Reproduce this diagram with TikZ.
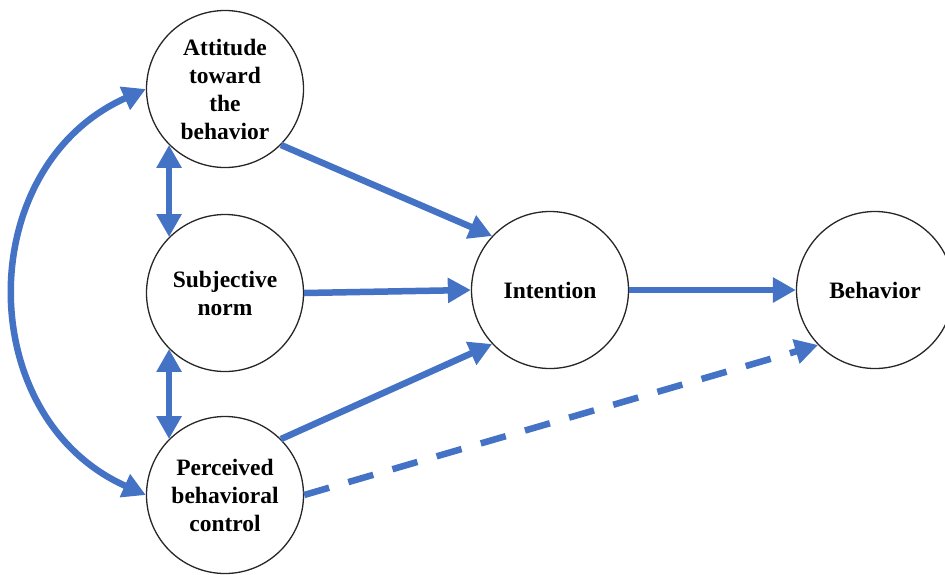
\documentclass[tikz,border=0pt]{standalone}
\usepackage{fontspec}
\setmainfont{Liberation Serif}
\usetikzlibrary{arrows.meta}
\definecolor{arrowblue}{RGB}{68,114,196}
\begin{document}
\begin{tikzpicture}[x=1pt,y=1pt,
  construct/.style={circle,draw=black!85,line width=1.3pt,minimum size=157pt,inner sep=0pt,
    align=center,font=\fontsize{23.5}{28}\selectfont\bfseries},
  link/.style={draw=arrowblue,line width=6.5pt,-{Triangle[length=23pt,width=24pt]}},
  dlink/.style={draw=arrowblue,line width=6.5pt,{Triangle[length=23pt,width=24pt]}-{Triangle[length=23pt,width=24pt]}},
  dashlink/.style={link,dash pattern=on 26pt off 20pt}]
\useasboundingbox (0,0) rectangle (945,-574);
\node[construct] (att) at (225,-89) {Attitude\\toward\\the\\behavior};
\node[construct] (sn)  at (225,-293) {Subjective\\norm};
\node[construct] (pbc) at (225,-495) {Perceived\\behavioral\\control};
\node[construct] (int) at (550,-290) {Intention};
\node[construct] (beh) at (875,-290) {Behavior};
\draw[link] (att.-45) -- (int.137);
\draw[link] (sn.east) -- (int.west);
\draw[link] (pbc.45) -- (int.223);
\draw[link] (int.east) -- (beh.west);
\draw[dashlink] (pbc.east) -- (beh.224);
\draw[dlink] (att.225) -- (sn.135);
\draw[dlink] (sn.225) -- (pbc.135);
\draw[dlink] (att.west) to[out=204,in=156,looseness=1.2] (pbc.west);
\end{tikzpicture}
\end{document}
